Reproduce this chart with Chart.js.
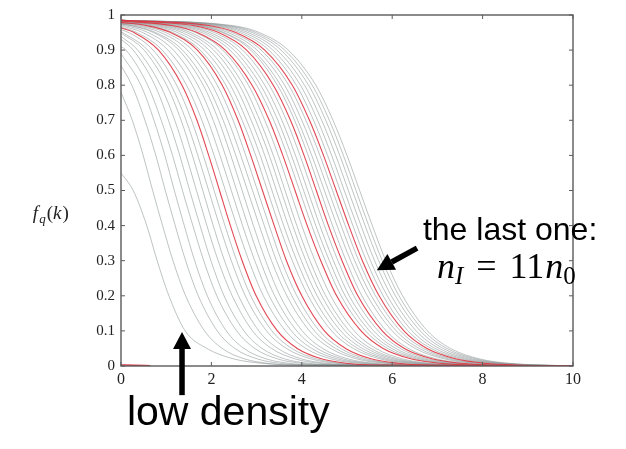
<!DOCTYPE html>
<html>
<head>
<meta charset="utf-8">
<script src="https://cdn.jsdelivr.net/npm/chart.js@4.4.1/dist/chart.umd.min.js"></script>
<style>
  html, body { margin: 0; padding: 0; background: #fff; }
  #wrap { position: relative; width: 626px; height: 449px; }
</style>
</head>
<body>
<div id="wrap"><canvas id="fqChart"></canvas></div>
<script>
const levels = [0.97, 0.95, 0.9, 0.8, 0.7, 0.6, 0.5, 0.4, 0.3, 0.2, 0.1, 0.05, 0.02, 0.008, 0.003];

// value of each curve at k = 0 (low density first)
const startValues = [
  0.55, 0.78, 0.856, 0.89, 0.91, 0.931, 0.939, 0.949, 0.953, 0.958,
  0.963, 0.965, 0.969, 0.972, 0.974, 0.975, 0.976, 0.978, 0.979, 0.979,
  0.980, 0.981, 0.982, 0.982, 0.983, 0.983, 0.984, 0.984, 0.984, 0.984,
  0.985, 0.985, 0.985, 0.985, 0.985, 0.985, 0.985, 0.985, 0.985, 0.985,
  0.985, 0.985
];

// k where each curve crosses the levels above (null: curve starts below that level)
const crossings = [
  [null, null, null, null, null, null, 0.27, 0.57, 0.80, 1.06, 1.42, 1.90, 2.50, 3.10, 3.80],
  [null, null, null, null, 0.25, 0.49, 0.70, 0.92, 1.15, 1.43, 1.85, 2.24, 2.74, 3.22, 3.73],
  [null, null, null, 0.24, 0.53, 0.77, 0.98, 1.20, 1.43, 1.71, 2.13, 2.52, 3.02, 3.50, 4.01],
  [null, null, null, 0.44, 0.73, 0.97, 1.18, 1.40, 1.63, 1.91, 2.33, 2.72, 3.22, 3.70, 4.21],
  [null, null, 0.11, 0.59, 0.89, 1.14, 1.36, 1.59, 1.83, 2.12, 2.56, 2.96, 3.47, 3.97, 4.51],
  [null, null, 0.27, 0.75, 1.05, 1.30, 1.52, 1.75, 1.99, 2.28, 2.72, 3.12, 3.63, 4.13, 4.67],
  [null, null, 0.37, 0.87, 1.19, 1.44, 1.67, 1.90, 2.15, 2.46, 2.91, 3.33, 3.86, 4.38, 4.93],
  [null, null, 0.51, 1.01, 1.33, 1.58, 1.81, 2.04, 2.29, 2.60, 3.05, 3.47, 4.00, 4.52, 5.07],
  [null, null, 0.59, 1.11, 1.44, 1.70, 1.94, 2.18, 2.44, 2.75, 3.22, 3.66, 4.21, 4.74, 5.32],
  [null, 0.17, 0.71, 1.23, 1.56, 1.82, 2.06, 2.30, 2.56, 2.87, 3.34, 3.78, 4.33, 4.86, 5.44],
  [null, 0.29, 0.83, 1.35, 1.68, 1.94, 2.18, 2.42, 2.68, 2.99, 3.46, 3.90, 4.45, 4.98, 5.56],
  [null, 0.35, 0.91, 1.45, 1.79, 2.06, 2.31, 2.56, 2.83, 3.15, 3.64, 4.09, 4.66, 5.21, 5.80],
  [null, 0.48, 1.04, 1.58, 1.92, 2.19, 2.44, 2.69, 2.96, 3.28, 3.77, 4.22, 4.79, 5.34, 5.93],
  [0.08, 0.60, 1.16, 1.70, 2.04, 2.31, 2.56, 2.81, 3.08, 3.40, 3.89, 4.34, 4.91, 5.46, 6.05],
  [0.20, 0.72, 1.28, 1.82, 2.16, 2.43, 2.68, 2.93, 3.20, 3.52, 4.01, 4.46, 5.03, 5.58, 6.17],
  [0.23, 0.77, 1.36, 1.91, 2.26, 2.54, 2.80, 3.06, 3.33, 3.67, 4.17, 4.64, 5.22, 5.80, 6.41],
  [0.34, 0.88, 1.47, 2.02, 2.37, 2.65, 2.91, 3.17, 3.44, 3.78, 4.28, 4.75, 5.33, 5.91, 6.52],
  [0.45, 0.99, 1.58, 2.13, 2.48, 2.76, 3.02, 3.28, 3.55, 3.89, 4.39, 4.86, 5.44, 6.02, 6.63],
  [0.56, 1.10, 1.69, 2.24, 2.59, 2.87, 3.13, 3.39, 3.66, 4.00, 4.50, 4.97, 5.55, 6.13, 6.74],
  [0.59, 1.15, 1.75, 2.32, 2.68, 2.98, 3.24, 3.50, 3.79, 4.14, 4.66, 5.14, 5.74, 6.33, 6.97],
  [0.69, 1.25, 1.85, 2.42, 2.78, 3.08, 3.34, 3.60, 3.89, 4.24, 4.76, 5.24, 5.84, 6.43, 7.07],
  [0.79, 1.35, 1.95, 2.52, 2.88, 3.18, 3.44, 3.70, 3.99, 4.34, 4.86, 5.34, 5.94, 6.53, 7.17],
  [0.89, 1.45, 2.05, 2.62, 2.98, 3.28, 3.54, 3.80, 4.09, 4.44, 4.96, 5.44, 6.04, 6.63, 7.27],
  [0.98, 1.54, 2.14, 2.71, 3.07, 3.37, 3.63, 3.89, 4.18, 4.53, 5.05, 5.53, 6.13, 6.72, 7.36],
  [1.09, 1.65, 2.25, 2.82, 3.18, 3.48, 3.74, 4.00, 4.29, 4.64, 5.16, 5.64, 6.24, 6.83, 7.47],
  [1.12, 1.69, 2.31, 2.90, 3.28, 3.58, 3.85, 4.12, 4.42, 4.77, 5.31, 5.80, 6.43, 7.04, 7.69],
  [1.22, 1.79, 2.41, 3.00, 3.38, 3.68, 3.95, 4.22, 4.52, 4.87, 5.41, 5.90, 6.53, 7.14, 7.79],
  [1.31, 1.88, 2.50, 3.09, 3.47, 3.77, 4.04, 4.31, 4.61, 4.96, 5.50, 5.99, 6.62, 7.23, 7.88],
  [1.40, 1.97, 2.59, 3.18, 3.56, 3.86, 4.13, 4.40, 4.70, 5.05, 5.59, 6.08, 6.71, 7.32, 7.97],
  [1.50, 2.07, 2.69, 3.28, 3.66, 3.96, 4.23, 4.50, 4.80, 5.15, 5.69, 6.18, 6.81, 7.42, 8.07],
  [1.59, 2.16, 2.78, 3.37, 3.75, 4.05, 4.32, 4.59, 4.89, 5.24, 5.78, 6.27, 6.90, 7.51, 8.16],
  [1.68, 2.25, 2.87, 3.46, 3.84, 4.14, 4.41, 4.68, 4.98, 5.33, 5.87, 6.36, 6.99, 7.60, 8.25],
  [1.72, 2.28, 2.92, 3.53, 3.91, 4.22, 4.50, 4.78, 5.08, 5.45, 6.00, 6.51, 7.16, 7.78, 8.46],
  [1.77, 2.37, 3.01, 3.62, 4.00, 4.31, 4.59, 4.87, 5.17, 5.54, 6.09, 6.60, 7.25, 7.87, 8.55],
  [1.86, 2.46, 3.10, 3.71, 4.09, 4.40, 4.68, 4.96, 5.26, 5.63, 6.18, 6.69, 7.34, 7.96, 8.64],
  [1.94, 2.54, 3.18, 3.79, 4.17, 4.48, 4.76, 5.04, 5.34, 5.71, 6.26, 6.77, 7.42, 8.04, 8.72],
  [2.03, 2.63, 3.27, 3.88, 4.26, 4.57, 4.85, 5.13, 5.43, 5.80, 6.35, 6.86, 7.51, 8.13, 8.81],
  [2.12, 2.72, 3.36, 3.97, 4.35, 4.66, 4.94, 5.22, 5.52, 5.89, 6.44, 6.95, 7.60, 8.22, 8.90],
  [2.21, 2.81, 3.45, 4.06, 4.44, 4.75, 5.03, 5.31, 5.61, 5.98, 6.53, 7.04, 7.69, 8.31, 8.99],
  [2.30, 2.90, 3.54, 4.15, 4.53, 4.84, 5.12, 5.40, 5.70, 6.07, 6.62, 7.13, 7.78, 8.40, 9.08],
  [2.38, 2.98, 3.62, 4.23, 4.61, 4.92, 5.20, 5.48, 5.78, 6.15, 6.70, 7.21, 7.86, 8.48, 9.16],
  [2.46, 3.06, 3.70, 4.31, 4.69, 5.00, 5.28, 5.56, 5.86, 6.23, 6.78, 7.29, 7.94, 8.56, 9.24]
];

// curves drawn in red (indices into the lists above)
const redCurves = [10, 18, 25, 30, 35];

// every curve has died out by the right edge
const valueAtEnd = 0.0005;

// short red trace lying on the axis at the very lowest density
const baseK = [0, 0.3, 0.65];
const baseF = [0.003, 0.002, 0.001];

function curvePoints(i) {
  const pts = [{ x: 0, y: startValues[i] }];
  crossings[i].forEach((k, j) => {
    if (k !== null) pts.push({ x: k, y: levels[j] });
  });
  pts.push({ x: 10, y: valueAtEnd });
  return pts;
}

const datasets = crossings.map((_, i) => {
  const red = redCurves.includes(i);
  return {
    data: curvePoints(i),
    borderColor: red ? "rgba(222,52,64,0.9)" : "rgba(138,148,148,0.7)",
    borderWidth: red ? 1.1 : 0.8,
    order: red ? 0 : 1
  };
});
datasets.push({
  data: baseK.map((k, i) => ({ x: k, y: baseF[i] })),
  borderColor: "rgba(222,52,64,0.95)",
  borderWidth: 1.5,
  order: 0
});

function drawArrow(ctx, x1, y1, x2, y2) {
  const ang = Math.atan2(y2 - y1, x2 - x1);
  const head = 17, half = 9;
  const bx = x2 - head * Math.cos(ang), by = y2 - head * Math.sin(ang);
  ctx.lineWidth = 5.5;
  ctx.beginPath();
  ctx.moveTo(x1, y1);
  ctx.lineTo(bx, by);
  ctx.stroke();
  ctx.beginPath();
  ctx.moveTo(x2, y2);
  ctx.lineTo(bx + half * Math.sin(ang), by - half * Math.cos(ang));
  ctx.lineTo(bx - half * Math.sin(ang), by + half * Math.cos(ang));
  ctx.closePath();
  ctx.fill();
}

// draw a run of [text, font, dy, gap] pieces left to right
function drawRun(ctx, x, y, parts) {
  parts.forEach(([txt, font, dy, gap]) => {
    ctx.font = font;
    ctx.fillText(txt, x, y + (dy || 0));
    x += ctx.measureText(txt).width + (gap || 0);
  });
}

const framePlugin = {
  id: "frame",
  afterDatasetsDraw(chart) {
    const { ctx, chartArea: a, scales: { x, y } } = chart;
    ctx.save();
    ctx.strokeStyle = "#5a5a5a";
    ctx.lineWidth = 1.4;
    ctx.strokeRect(a.left, a.top, a.right - a.left, a.bottom - a.top);
    ctx.lineWidth = 1;
    ctx.beginPath();
    x.ticks.forEach(t => {
      const px = x.getPixelForValue(t.value);
      ctx.moveTo(px, a.bottom); ctx.lineTo(px, a.bottom - 4);
      ctx.moveTo(px, a.top); ctx.lineTo(px, a.top + 4);
    });
    y.ticks.forEach(t => {
      const py = y.getPixelForValue(t.value);
      ctx.moveTo(a.left, py); ctx.lineTo(a.left + 4, py);
      ctx.moveTo(a.right, py); ctx.lineTo(a.right - 4, py);
    });
    ctx.stroke();
    ctx.restore();
  }
};

const notePlugin = {
  id: "notes",
  afterDraw(chart) {
    const { ctx, scales: { x, y } } = chart;
    const X = v => x.getPixelForValue(v), Y = v => y.getPixelForValue(v);
    ctx.save();
    ctx.fillStyle = "#000";
    ctx.strokeStyle = "#000";
    ctx.textBaseline = "alphabetic";

    drawArrow(ctx, X(6.55), Y(0.336), X(5.66), Y(0.273));
    drawArrow(ctx, X(1.35), Y(-0.083), X(1.35), Y(0.097));

    ctx.font = '32px "Liberation Sans", Arial, sans-serif';
    ctx.fillText("the last one:", X(6.68), Y(0.358));
    ctx.font = '41px "Liberation Sans", Arial, sans-serif';
    ctx.fillText("low density", X(0.13), Y(-0.168));

    const it = s => 'italic ' + s + 'px "Liberation Serif", serif';
    const up = s => s + 'px "Liberation Serif", serif';
    drawRun(ctx, X(6.99), Y(0.25), [
      ["n", it(36), 0, 0], ["I", it(25), 6, 13], ["=", up(36), 0, 13],
      ["11", up(36), 0, 1], ["n", it(36), 0, 0], ["0", up(25), 6, 0]
    ]);

    ctx.fillStyle = "#222";
    drawRun(ctx, X(-1.95), Y(0.418), [
      ["f", it(19), 0, 1], ["q", it(13), 4, 1], ["(", up(19), 0, 0],
      ["k", it(19), 0, 1], [")", up(19), 0, 0]
    ]);
    ctx.restore();
  }
};

const tickFont = { family: '"Liberation Serif", serif', size: 15 };

new Chart(document.getElementById("fqChart"), {
  type: "line",
  data: { datasets },
  options: {
    responsive: true,
    maintainAspectRatio: false,
    animation: false,
    events: [],
    layout: { padding: { top: 14, right: 53, left: 0, bottom: 0 } },
    elements: {
      point: { radius: 0 },
      line: { cubicInterpolationMode: "monotone", fill: false }
    },
    plugins: { legend: { display: false }, tooltip: { enabled: false } },
    scales: {
      x: {
        type: "linear",
        min: 0,
        max: 10,
        grid: { display: false, drawTicks: false },
        border: { display: false },
        ticks: { stepSize: 2, color: "#222", font: { ...tickFont, size: 16 }, padding: 4, maxRotation: 0 },
        afterFit(s) { s.height = 83; }
      },
      y: {
        min: 0,
        max: 1,
        grid: { display: false, drawTicks: false },
        border: { display: false },
        ticks: {
          stepSize: 0.1,
          color: "#222",
          font: tickFont,
          padding: 6,
          callback: v => String(Number(v.toFixed(1)))
        },
        afterFit(s) { s.width = 121; }
      }
    }
  },
  plugins: [framePlugin, notePlugin]
});
</script>
</body>
</html>
